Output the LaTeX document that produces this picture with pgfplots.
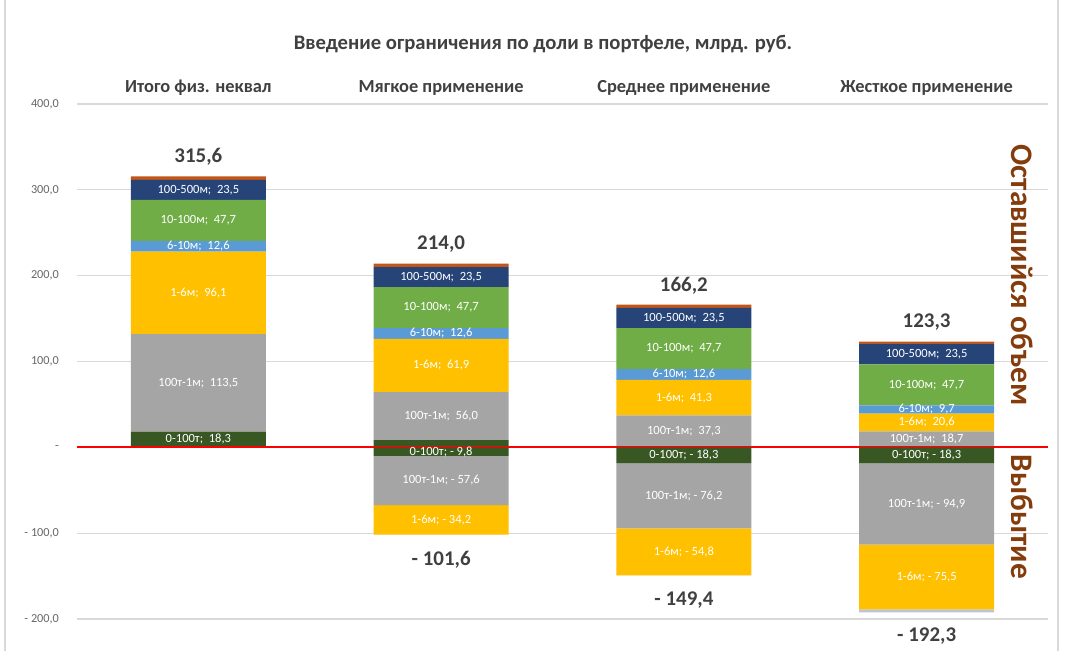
\documentclass[border=0pt]{standalone}
\usepackage{pgfplots}
\pgfplotsset{compat=1.18}
\usepackage{fontspec}
\setmainfont{Carlito}
\definecolor{cDG}{HTML}{385723}
\definecolor{cGR}{HTML}{A5A5A5}
\definecolor{cYE}{HTML}{FFC000}
\definecolor{cLB}{HTML}{5B9BD5}
\definecolor{cGN}{HTML}{70AD47}
\definecolor{cNV}{HTML}{264478}
\definecolor{cBR}{HTML}{C0561A}
\definecolor{cTB}{HTML}{BCC3D4}
\definecolor{cTxt}{HTML}{404040}
\definecolor{cTick}{HTML}{666666}
\definecolor{cBrown}{HTML}{843C0C}
\definecolor{cGrid}{HTML}{D9D9D9}
\pgfplotsset{
  common/.style={
    at={(0,0)}, anchor=south west,
    scale only axis, width=728.25pt, height=386.25pt,
    xmin=-0.5, xmax=3.5, ymin=-200, ymax=400,
    ybar stacked, bar width=101.25pt,
    clip=false,
  },
  seglbl/.style={
    point meta=explicit symbolic,
    nodes near coords={\pgfplotspointmeta},
    every node near coord/.append style={anchor=center, text=white,
      font=\fontsize{9.4}{10}\selectfont},
  },
  totlbl/.style={
    point meta=explicit symbolic,
    nodes near coords={\pgfplotspointmeta},
    every node near coord/.append style={anchor=center, text=cTxt,
      font=\fontsize{15.7}{17}\selectfont\bfseries,
      yshift=#1},
  },
}
\begin{document}
\begin{tikzpicture}[x=0.75pt,y=0.75pt]
\path[use as bounding box] (-77,-32) rectangle (991,619);
\draw[cGrid, line width=1pt] (-72,-32) -- (-72,619);
\draw[cGrid, line width=1pt] (981,-32) -- (981,619);
\begin{axis}[common,
  axis line style={draw=none},
  major tick length=0pt,
  ytick={-200,-100,0,100,200,300,400},
  yticklabels={{- 200,0},{- 100,0},{-},{100,0},{200,0},{300,0},{400,0}},
  yticklabel style={font=\fontsize{9.2}{10}\selectfont, text=cTick, xshift=-10pt},
  ymajorgrids, grid style={cGrid, line width=0.8pt},
  xtick={0,1,2,3},
  xticklabel pos=upper,
  xticklabels={Итого физ. неквал, Мягкое применение, Среднее применение, Жесткое применение},
  xticklabel style={font=\fontsize{13.8}{15}\selectfont\bfseries, text=cTxt, yshift=3pt},
]
\addplot[fill=cDG, draw=none, seglbl] coordinates {(0,18.3) [{0-100т;\ \ 18,3}] (1,8.4) [{}] (2,0) [{}] (3,0) [{}]};
\addplot[fill=cGR, draw=none, seglbl] coordinates {(0,113.5) [{100т-1м;\ \ 113,5}] (1,56.0) [{100т-1м;\ \ 56,0}] (2,37.3) [{100т-1м;\ \ 37,3}] (3,18.7) [{100т-1м;\ \ 18,7}]};
\addplot[fill=cYE, draw=none, seglbl] coordinates {(0,96.1) [{1-6м;\ \ 96,1}] (1,61.9) [{1-6м;\ \ 61,9}] (2,41.3) [{1-6м;\ \ 41,3}] (3,20.6) [{1-6м;\ \ 20,6}]};
\addplot[fill=cLB, draw=none, seglbl] coordinates {(0,12.6) [{6-10м;\ \ 12,6}] (1,12.6) [{6-10м;\ \ 12,6}] (2,12.6) [{6-10м;\ \ 12,6}] (3,9.7) [{6-10м;\ \ 9,7}]};
\addplot[fill=cGN, draw=none, seglbl] coordinates {(0,47.7) [{10-100м;\ \ 47,7}] (1,47.7) [{10-100м;\ \ 47,7}] (2,47.7) [{10-100м;\ \ 47,7}] (3,47.7) [{10-100м;\ \ 47,7}]};
\addplot[fill=cNV, draw=none, seglbl] coordinates {(0,23.5) [{100-500м;\ \ 23,5}] (1,23.5) [{100-500м;\ \ 23,5}] (2,23.5) [{100-500м;\ \ 23,5}] (3,23.5) [{100-500м;\ \ 23,5}]};
\addplot[fill=cBR, draw=none, totlbl=15.75pt] coordinates {(0,3.9) [{315,6}] (1,3.9) [{214,0}] (2,3.8) [{166,2}] (3,3.1) [{123,3}]};
\end{axis}
\begin{axis}[common, hide axis]
\addplot[fill=cDG, draw=none, seglbl] coordinates {(0,0) [{}] (1,-9.8) [{0-100т; - 9,8}] (2,-18.3) [{0-100т; - 18,3}] (3,-18.3) [{0-100т; - 18,3}]};
\addplot[fill=cGR, draw=none, seglbl] coordinates {(0,0) [{}] (1,-57.6) [{100т-1м; - 57,6}] (2,-76.2) [{100т-1м; - 76,2}] (3,-94.9) [{100т-1м; - 94,9}]};
\addplot[fill=cYE, draw=none, seglbl] coordinates {(0,0) [{}] (1,-34.2) [{1-6м; - 34,2}] (2,-54.8) [{1-6м; - 54,8}] (3,-75.5) [{1-6м; - 75,5}]};
\addplot[fill=cTB, draw=none, totlbl=-18.75pt] coordinates {(0,0) [{}] (1,-0.01) [{- 101,6}] (2,-0.01) [{- 149,4}] (3,-3.6) [{- 192,3}]};
\draw[red, line width=1.6pt] (axis cs:-0.5,0) -- (axis cs:3.5,0);
\end{axis}
\node[font=\fontsize{15.5}{17}\selectfont\bfseries, text=cTxt] at (466,575) {Введение ограничения по доли в портфеле, млрд. руб.};
\node[font=\fontsize{23.5}{25}\selectfont\bfseries, text=cBrown, rotate=-90] at (945,344) {Оставшийся объем};
\node[font=\fontsize{23.5}{25}\selectfont\bfseries, text=cBrown, rotate=-90] at (945,102) {Выбытие};
\end{tikzpicture}
\end{document}
